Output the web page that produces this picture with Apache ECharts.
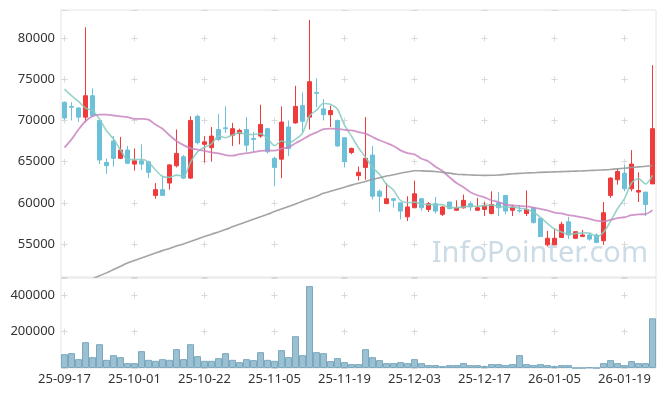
<!DOCTYPE html>
<html><head><meta charset="utf-8">
<script src="https://cdn.jsdelivr.net/npm/echarts@6/dist/echarts.min.js"></script>
<style>html,body{margin:0;padding:0;background:#fff}#c{width:665px;height:396px}</style>
</head><body><div id="c"></div>
<script>
const dates = ['25-09-17','25-09-18','25-09-19','25-09-22','25-09-23','25-09-24','25-09-25','25-09-26','25-09-29','25-09-30',
'25-10-01','25-10-02','25-10-10','25-10-13','25-10-14','25-10-15','25-10-16','25-10-17','25-10-20','25-10-21',
'25-10-22','25-10-23','25-10-24','25-10-27','25-10-28','25-10-29','25-10-30','25-10-31','25-11-03','25-11-04',
'25-11-05','25-11-06','25-11-07','25-11-10','25-11-11','25-11-12','25-11-13','25-11-14','25-11-17','25-11-18',
'25-11-19','25-11-20','25-11-21','25-11-24','25-11-25','25-11-26','25-11-27','25-11-28','25-12-01','25-12-02',
'25-12-03','25-12-04','25-12-05','25-12-08','25-12-09','25-12-10','25-12-11','25-12-12','25-12-15','25-12-16',
'25-12-17','25-12-18','25-12-19','25-12-22','25-12-23','25-12-24','25-12-26','25-12-29','25-12-30','26-01-02',
'26-01-05','26-01-06','26-01-07','26-01-08','26-01-09','26-01-12','26-01-13','26-01-14','26-01-15','26-01-16',
'26-01-19','26-01-20','26-01-21','26-01-22','26-01-23'];
const opens = [72200,71700,71500,70400,73000,70000,64900,67500,65400,66400,
64700,65100,65000,60900,61600,62400,64500,65600,63000,70500,
67100,66700,68900,69100,68200,68400,68900,67800,68100,69000,
65400,65300,69200,69700,71800,70400,73400,71400,70700,70000,
67900,66100,63300,64300,65800,61400,59900,60500,60000,58300,
59400,60500,59200,59900,58600,60100,59100,59400,59900,59100,
59200,58700,60000,60900,59100,59100,58700,59400,58100,54900,
54900,55800,57700,55700,55900,56100,56100,55400,60900,62800,
63600,61700,61300,61300,62300];
const closes = [70300,71600,70400,73000,70600,65200,64500,65400,66400,64800,
65100,64700,63700,61600,60900,64600,66000,63000,70000,67300,
67400,68100,67700,69000,69000,68800,67000,67700,69500,66200,
64300,69800,66600,71700,69900,74700,73300,70700,71200,66900,
65000,66600,63700,65400,60800,60800,60500,60300,59000,59500,
61100,59400,59900,59000,59500,59300,59400,60300,59500,59400,
59700,59800,59400,59000,59500,59000,59200,57600,55900,55700,
55700,57400,56100,56500,56100,55600,55200,58800,63000,63800,
61700,64700,61500,59800,69000];
const lows = [70100,70000,69800,69800,70400,64700,63500,64400,65300,64700,
63900,64000,63000,60500,60900,61600,64300,62900,62900,67100,
64900,65000,67500,68500,66900,67100,66200,66200,67900,66000,
62000,63000,65700,69600,68500,68900,71600,70000,69200,66800,
64300,65900,62700,62800,60400,58900,59900,59400,58000,57800,
59400,59000,58900,58700,58400,59200,59000,59300,59000,59000,
58400,58600,58400,58600,58400,58800,58400,57500,55900,54700,
54900,55800,55600,55600,55900,55400,55100,54900,60600,62200,
61400,61400,60100,58400,62300];
const highs = [72300,72200,71600,81300,73900,70100,65400,68100,68000,66900,
66600,67100,65100,62400,63300,64700,68900,65800,70500,70700,
68100,69200,70800,71700,69700,69000,70400,68600,71900,69100,
65600,71700,70000,74200,73400,82200,75100,72600,71800,70100,
67900,66700,64400,70400,66900,61600,62400,60500,60000,60800,
62700,60500,60100,60700,59600,60100,60300,61000,60200,60600,
60100,61400,61300,60900,59700,59700,61500,59400,58100,56600,
56900,57700,58300,56500,56700,56300,56300,60100,63100,64100,
64600,66400,63700,61300,76700];
const volumes = [76000,81600,48700,141900,59700,130900,44900,70600,59700,26800,
26800,92600,44900,39400,48700,44900,103500,48700,130900,65200,
39400,39400,54200,81600,44900,32300,48700,43300,87100,44900,
39400,98100,59700,174800,70600,450400,87100,81600,37800,54200,
32300,21400,21400,103500,59700,43300,26800,26800,32300,26800,
48700,26800,15900,15900,10400,15900,15900,26800,15900,15900,
10400,21400,21400,15900,21400,70600,21400,15900,21400,15900,
10400,15900,15900,0,0,3000,0,26800,43300,26800,
15900,37800,26800,26800,273400];
// moving-average values before enough history is on screen
const ma5Head = [73800,73000,72300,71500];
const ma20Head = [66700,67700,68900,69900,70500,70700,70700,70600,70500,70400,
70200,70200,70100,69500,69000,68200,67500,67000,66650];
const ma60 = [49400,49750,50100,50450,50800,51150,51500,51900,52300,52700,
53000,53300,53600,53900,54200,54450,54750,55000,55300,55600,
55900,56200,56450,56750,57100,57400,57700,58000,58300,58600,
58950,59250,59550,59850,60200,60500,60800,61150,61400,61650,
61900,62150,62380,62600,62850,63050,63250,63400,63600,63750,
63900,63880,63850,63800,63700,63600,63470,63420,63380,63350,
63330,63340,63380,63450,63520,63580,63620,63650,63700,63730,
63760,63790,63820,63850,63880,63920,63960,64000,64050,64120,
64200,64280,64360,64440,64540];

function movingAvg(n, head) {
  return closes.map((c, i) => {
    if (i < n - 1) return head[i];
    let s = 0;
    for (let k = i - n + 1; k <= i; k++) s += closes[k];
    return Math.round(s / n);
  });
}
const ma5 = movingAvg(5, ma5Head);
const ma20 = movingAvg(20, ma20Head);

const UP = '#ee3b3b', DOWN = '#6cc0d8';
const FONT = '"Noto Sans", sans-serif';
const plain = v => String(v);
const chart = echarts.init(document.getElementById('c'), null, {renderer: 'canvas'});
const plus = '#d9d9d9';
chart.setOption({
  animation: false,
  backgroundColor: '#fff',
  grid: [
    {left: 61, top: 10, width: 595, height: 267, show: true, borderColor: '#e4e4e4', borderWidth: 1},
    {left: 61, top: 278, width: 595, height: 90, show: true, borderColor: '#e4e4e4', borderWidth: 1}
  ],
  xAxis: [
    {type: 'category', gridIndex: 0, data: dates, boundaryGap: true,
     axisLine: {show: false}, axisTick: {show: false}, axisLabel: {show: false},
     splitLine: {show: true, interval: 9, alignWithLabel: true,
       lineStyle: {color: plus, width: 1, type: [6, 35.2], dashOffset: 15.9}}},
    {type: 'category', gridIndex: 1, data: dates, boundaryGap: true,
     axisLine: {show: false}, axisTick: {show: false},
     axisLabel: {interval: 9, fontSize: 13, color: '#333', margin: 5, fontFamily: FONT},
     splitLine: {show: true, interval: 9, alignWithLabel: true,
       lineStyle: {color: plus, width: 1, type: [6, 30.36], dashOffset: 22.06}}}
  ],
  yAxis: [
    {type: 'value', gridIndex: 0, min: 51000, max: 83400, scale: true,
     axisLine: {show: false}, axisTick: {show: false},
     axisLabel: {formatter: plain, showMinLabel: false, showMaxLabel: false, fontSize: 13, color: '#333', margin: 6, fontFamily: FONT},
     splitLine: {show: true, lineStyle: {color: plus, width: 1, type: [6, 64], dashOffset: 69.5}}},
    {type: 'value', gridIndex: 1, min: 0, max: 495000, interval: 200000,
     axisLine: {show: false}, axisTick: {show: false},
     axisLabel: {formatter: plain, showMinLabel: false, showMaxLabel: false, fontSize: 13, color: '#333', margin: 6, fontFamily: FONT},
     splitLine: {show: true, lineStyle: {color: plus, width: 1, type: [6, 64], dashOffset: 69.5}}}
  ],
  graphic: [{
    type: 'text', right: 17, top: 239, z: 0, silent: true,
    style: {text: 'InfoPointer.com', fill: 'rgba(160,192,210,0.55)', font: '29px "Noto Sans", sans-serif'}
  }],
  series: [
    {type: 'candlestick', xAxisIndex: 0, yAxisIndex: 0, barWidth: 5,
     data: dates.map((d, i) => [opens[i], closes[i], lows[i], highs[i]]),
     itemStyle: {color: UP, color0: DOWN, borderColor: UP, borderColor0: DOWN, borderWidth: 1}},
    {type: 'line', name: 'MA5', xAxisIndex: 0, yAxisIndex: 0, data: ma5, showSymbol: false, smooth: 0.3,
     lineStyle: {color: '#86cbbf', width: 1.6, opacity: 0.85}, z: 3},
    {type: 'line', name: 'MA20', xAxisIndex: 0, yAxisIndex: 0, data: ma20, showSymbol: false, smooth: 0.3,
     lineStyle: {color: '#c985c1', width: 1.8, opacity: 0.85}, z: 3},
    {type: 'line', name: 'MA60', xAxisIndex: 0, yAxisIndex: 0, data: ma60, showSymbol: false, smooth: 0.3, clip: true,
     lineStyle: {color: '#999999', width: 1.6, opacity: 0.9}, z: 3},
    {type: 'bar', xAxisIndex: 1, yAxisIndex: 1, data: volumes, barWidth: '100%',
     itemStyle: {color: '#9ac0d1', borderColor: '#7aa8be', borderWidth: 1}}
  ]
});
</script>
</body></html>
